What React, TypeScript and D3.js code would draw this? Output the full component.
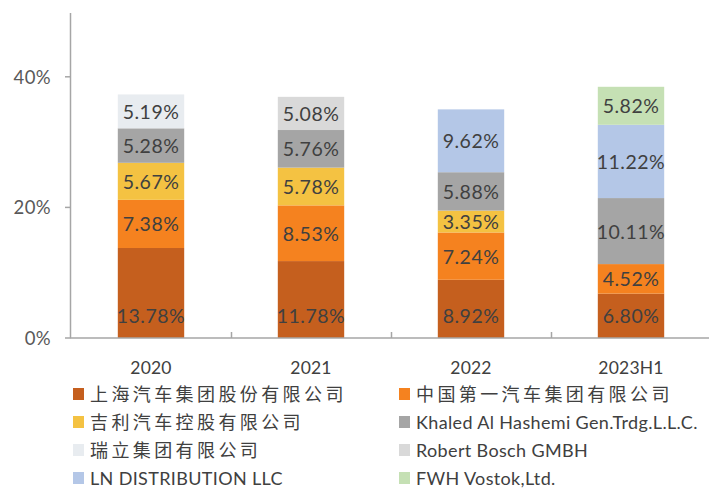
import React from "react";
import * as d3 from "d3";

const categories = ["2020", "2021", "2022", "2023H1"];
const seriesNames = [
  "上海汽车集团股份有限公司",
  "中国第一汽车集团有限公司",
  "吉利汽车控股有限公司",
  "Khaled Al Hashemi Gen.Trdg.L.L.C.",
  "瑞立集团有限公司",
  "Robert Bosch GMBH",
  "LN DISTRIBUTION LLC",
  "FWH Vostok,Ltd.",
];
const seriesColors = ["#C55F1E", "#F5821F", "#F4C242", "#A5A5A5", "#E8ECF0", "#D9D9D9", "#B4C7E7", "#C5E0B4"];
// values in %, per series, per category
const saic = [13.78, 11.78, 8.92, 6.8];
const faw = [7.38, 8.53, 7.24, 4.52];
const geely = [5.67, 5.78, 3.35, 0];
const khaled = [5.28, 5.76, 5.88, 10.11];
const ruili = [5.19, 0, 0, 0];
const bosch = [0, 5.08, 0, 0];
const ln = [0, 0, 9.62, 11.22];
const fwh = [0, 0, 0, 5.82];
const seriesValues = [saic, faw, geely, khaled, ruili, bosch, ln, fwh];
const yTicks = [0, 20, 40];

const W = 709;
const H = 488;

export default function App() {
  const x = d3.scaleBand<string>().domain(categories).range([71, 711]).padding(0);
  const y = d3.scaleLinear().domain([0, 50]).range([338, 11.5]);
  const barW = x.bandwidth() * 0.415;

  const table = categories.map((c, ci) => {
    const row: any = { cat: c };
    seriesNames.forEach((s, si) => (row[s] = seriesValues[si][ci]));
    return row;
  });
  const stacked = d3.stack<any>().keys(seriesNames)(table);

  const labelFont = "Lato, 'Open Sans', sans-serif";
  const cjkFont = "Lato, 'Noto Sans CJK SC', sans-serif";

  const legendRows = [394, 422, 450, 478];
  const legendCols = [73, 399];

  return (
    <svg width={W} height={H} style={{ position: "absolute", left: 0, top: 0, background: "#fff" }}>
      {/* bars */}
      {stacked.map((layer, si) =>
        layer.map((d, ci) => {
          const v = seriesValues[si][ci];
          if (!v) return null;
          const bx = (x(categories[ci]) as number) + (x.bandwidth() - barW) / 2;
          const y0 = y(d[0]);
          const y1 = y(d[1]);
          return (
            <rect key={`r${si}-${ci}`} x={bx} y={y1} width={barW} height={y0 - y1} fill={seriesColors[si]} />
          );
        })
      )}
      {/* labels */}
      {stacked.map((layer, si) =>
        layer.map((d, ci) => {
          const v = seriesValues[si][ci];
          if (!v) return null;
          const cx = (x(categories[ci]) as number) + x.bandwidth() / 2;
          const cy = si === 0 ? y(d[0]) - 23 : (y(d[0]) + y(d[1])) / 2;
          return (
            <text
              key={`t${si}-${ci}`}
              x={cx}
              y={cy}
              textAnchor="middle"
              dominantBaseline="central"
              fontFamily={labelFont}
              fontSize={19.5}
              letterSpacing={0.5}
              fill="#404040"
            >
              {v.toFixed(2)}%
            </text>
          );
        })
      )}
      {/* y axis */}
      <line x1={70.5} x2={70.5} y1={y(50) + 1.5} y2={y(0)} stroke="#A6A6A6" strokeWidth={1.5} />
      {yTicks.map((t) => (
        <g key={`yt${t}`}>
          <line x1={65} x2={70.5} y1={y(t)} y2={y(t)} stroke="#A6A6A6" strokeWidth={1.5} />
          <text
            x={51}
            y={y(t)}
            textAnchor="end"
            dominantBaseline="central"
            fontFamily={labelFont}
            fontSize={18.5}
            letterSpacing={0.4}
            fill="#595959"
          >
            {t}%
          </text>
        </g>
      ))}
      {/* x axis */}
      <line x1={70} x2={W} y1={y(0)} y2={y(0)} stroke="#A6A6A6" strokeWidth={1.5} />
      {categories.slice(1).map((c) => (
        <line
          key={`xt${c}`}
          x1={(x(c) as number) + 0.5}
          x2={(x(c) as number) + 0.5}
          y1={y(0) - 6}
          y2={y(0)}
          stroke="#A6A6A6"
          strokeWidth={1.5}
        />
      ))}
      {categories.map((c) => (
        <text
          key={`xl${c}`}
          x={(x(c) as number) + x.bandwidth() / 2}
          y={367}
          textAnchor="middle"
          dominantBaseline="central"
          fontFamily={labelFont}
          fontSize={17.5}
          letterSpacing={0.2}
          fill="#404040"
        >
          {c}
        </text>
      ))}
      {/* legend */}
      {seriesNames.map((s, i) => {
        const lx = legendCols[i % 2];
        const ly = legendRows[Math.floor(i / 2)];
        return (
          <g key={`lg${i}`}>
            <rect x={lx} y={ly - 6} width={11} height={12} fill={seriesColors[i]} />
            <text
              x={lx + 17}
              y={ly}
              dominantBaseline="central"
              fontFamily={cjkFont}
              fontSize={18}
              letterSpacing={/[\u4e00-\u9fff]/.test(s) ? 3.4 : 0.35}
              fill="#404040"
            >
              {s}
            </text>
          </g>
        );
      })}
    </svg>
  );
}
